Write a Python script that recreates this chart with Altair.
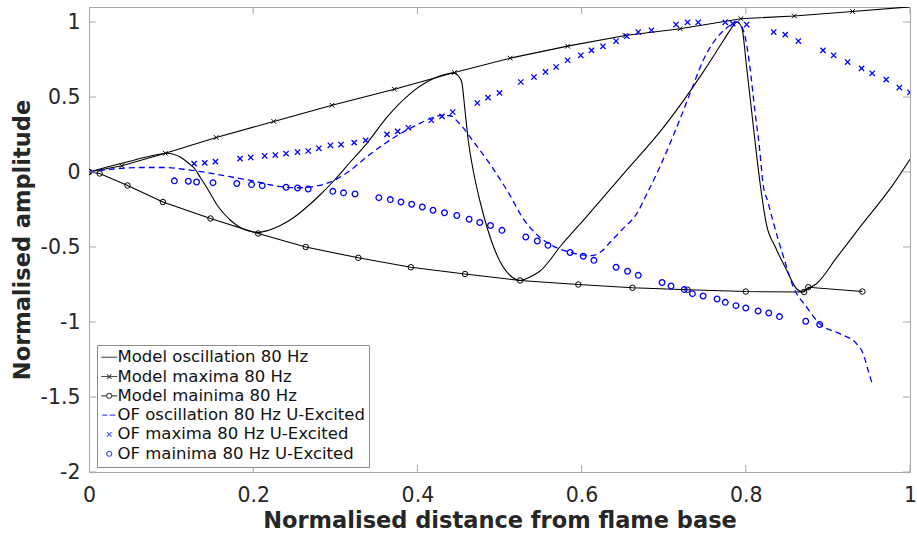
import altair as alt
import pandas as pd

# ---- Model (black) -------------------------------------------------------
mo_x = [0, 0.02, 0.045, 0.07, 0.095, 0.111, 0.122, 0.129, 0.136, 0.143, 0.150,
        0.156, 0.164, 0.172, 0.180, 0.188, 0.197, 0.206, 0.218, 0.233, 0.249,
        0.265, 0.281, 0.298, 0.318, 0.338, 0.363, 0.391, 0.419, 0.433, 0.444,
        0.450, 0.454, 0.458, 0.462, 0.468, 0.476, 0.486, 0.500, 0.513, 0.525,
        0.531, 0.537, 0.543, 0.549, 0.575, 0.602, 0.651, 0.700, 0.748, 0.773,
        0.785, 0.789, 0.795, 0.801, 0.807, 0.813, 0.818, 0.825, 0.836, 0.850,
        0.862, 0.868, 0.876, 0.886, 0.911, 0.939, 0.980, 1.000]
mo_y = [0, 0.03, 0.065, 0.10, 0.125, 0.10, 0.055, 0.02, -0.04, -0.10, -0.165,
        -0.22, -0.275, -0.32, -0.355, -0.38, -0.397, -0.403, -0.39, -0.357, -0.305,
        -0.235, -0.155, -0.06, 0.065, 0.188, 0.366, 0.521, 0.621, 0.650, 0.661,
        0.64, 0.60, 0.41, 0.21, 0.01, -0.19, -0.39, -0.59, -0.69, -0.723,
        -0.715, -0.70, -0.683, -0.662, -0.49, -0.323, -0.012, 0.299, 0.666, 0.878,
        0.978, 1.0, 0.965, 0.70, 0.41, 0.121, -0.10, -0.346, -0.50, -0.657,
        -0.78, -0.797, -0.778, -0.745, -0.568, -0.368, -0.079, 0.085]

mmax_x = [0, 0.04, 0.093, 0.155, 0.225, 0.296, 0.372, 0.445, 0.513, 0.583,
          0.653, 0.72, 0.794, 0.859, 0.93, 1.02]
mmax_y = [0, 0.042, 0.125, 0.23, 0.337, 0.445, 0.552, 0.663, 0.759, 0.839,
          0.91, 0.955, 1.022, 1.04, 1.07, 1.11]

mmin_x = [0, 0.013, 0.047, 0.09, 0.148, 0.206, 0.264, 0.328, 0.392, 0.458,
          0.525, 0.596, 0.662, 0.729, 0.80, 0.871, 0.876, 0.942]
mmin_y = [0, -0.01, -0.09, -0.20, -0.31, -0.41, -0.50, -0.572, -0.635, -0.68,
          -0.723, -0.75, -0.772, -0.785, -0.797, -0.80, -0.768, -0.797]

# ---- OF, U-excited (blue) ------------------------------------------------
of_x = [0, 0.03, 0.06, 0.09, 0.12, 0.15, 0.18, 0.20, 0.22, 0.237, 0.255, 0.275,
        0.297, 0.318, 0.338, 0.358, 0.379, 0.398, 0.415, 0.43, 0.44, 0.45, 0.47,
        0.49, 0.51, 0.53, 0.546, 0.559, 0.572, 0.586, 0.600, 0.612, 0.624, 0.635,
        0.65, 0.667, 0.68, 0.695, 0.71, 0.724, 0.736, 0.748, 0.76, 0.773, 0.783,
        0.789, 0.797, 0.805, 0.811, 0.817, 0.821, 0.827, 0.834, 0.846, 0.858,
        0.874, 0.89, 0.915, 0.935, 0.943, 0.949, 0.954]
of_y = [0, 0.02, 0.03, 0.03, 0.015, -0.01, -0.04, -0.06, -0.085, -0.10, -0.105,
        -0.095, -0.06, 0.01, 0.10, 0.18, 0.255, 0.31, 0.355, 0.377, 0.375, 0.33,
        0.19, 0.04, -0.13, -0.32, -0.42, -0.475, -0.51, -0.535, -0.553, -0.558,
        -0.53, -0.467, -0.38, -0.279, -0.14, 0.03, 0.22, 0.41, 0.58, 0.743, 0.86,
        0.943, 0.985, 1.0, 0.945, 0.70, 0.41, 0.143, -0.08, -0.2, -0.346, -0.568,
        -0.768, -0.90, -1.012, -1.079, -1.146, -1.212, -1.323, -1.412]

ofmax_x = [0.128, 0.141, 0.154, 0.184, 0.197, 0.214, 0.227, 0.240, 0.254, 0.267,
           0.280, 0.294, 0.307, 0.323, 0.337, 0.363, 0.376, 0.389, 0.417, 0.430,
           0.443, 0.473, 0.486, 0.500, 0.526, 0.542, 0.556, 0.569, 0.583, 0.599,
           0.612, 0.626, 0.642, 0.655, 0.669, 0.685, 0.715, 0.729, 0.742, 0.775,
           0.784, 0.801, 0.834, 0.848, 0.864, 0.894, 0.907, 0.924, 0.941, 0.954,
           0.971, 0.987, 1.0]
ofmax_y = [0.056, 0.061, 0.069, 0.089, 0.097, 0.108, 0.113, 0.123, 0.133, 0.14,
           0.158, 0.178, 0.183, 0.196, 0.211, 0.251, 0.271, 0.295, 0.345, 0.371,
           0.40, 0.46, 0.496, 0.527, 0.60, 0.633, 0.667, 0.70, 0.745, 0.778,
           0.811, 0.838, 0.873, 0.905, 0.933, 0.945, 0.983, 0.998, 0.998, 0.998,
           0.989, 0.983, 0.933, 0.916, 0.873, 0.811, 0.778, 0.733, 0.691, 0.658,
           0.616, 0.563, 0.531]

ofmin_x = [0.104, 0.121, 0.131, 0.151, 0.180, 0.198, 0.211, 0.240, 0.254, 0.267,
           0.297, 0.310, 0.324, 0.353, 0.367, 0.380, 0.393, 0.406, 0.419, 0.433,
           0.448, 0.463, 0.476, 0.489, 0.503, 0.532, 0.546, 0.559, 0.586, 0.602,
           0.615, 0.642, 0.656, 0.669, 0.698, 0.709, 0.725, 0.735, 0.748, 0.765,
           0.775, 0.788, 0.800, 0.815, 0.828, 0.841, 0.873, 0.890]
ofmin_y = [-0.059, -0.062, -0.067, -0.071, -0.077, -0.084, -0.091, -0.102, -0.107, -0.113,
           -0.129, -0.139, -0.147, -0.171, -0.184, -0.20, -0.215, -0.233, -0.255, -0.272,
           -0.29, -0.315, -0.337, -0.357, -0.389, -0.433, -0.46, -0.489, -0.537, -0.562,
           -0.589, -0.635, -0.662, -0.689, -0.737, -0.76, -0.784, -0.811, -0.827, -0.847,
           -0.869, -0.891, -0.907, -0.927, -0.94, -0.964, -0.995, -1.017]

x_ticks = [0, 0.2, 0.4, 0.6, 0.8, 1]
y_ticks = [1, 0.5, 0, -0.5, -1, -1.5, -2]

series_names = ["Model oscillation 80 Hz", "Model maxima 80 Hz", "Model mainima 80 Hz",
                "OF oscillation 80 Hz U-Excited", "OF maxima 80 Hz U-Excited",
                "OF mainima 80 Hz U-Excited"]
series_colors = ["#000000", "#000000", "#000000", "#0000ff", "#0000ff", "#0000ff"]

# legend glyphs as symbol paths (unit = half the symbol size)
X_PATH = "M-1,-1L1,1M-1,1L1,-1"
legend_paths = [
    "M-1.6,0H1.6",
    "M-1.6,0H1.6M-0.45,-0.45L0.45,0.45M-0.45,0.45L0.45,-0.45",
    "M-1.6,0H-0.5M0.5,0H1.6M-0.5,0A0.5,0.5,0,1,0,0.5,0A0.5,0.5,0,1,0,-0.5,0",
    "M-1.4,0H-0.4M0.1,0H1.2",
    "M-0.45,-0.45L0.45,0.45M-0.45,0.45L0.45,-0.45",
    "M-0.5,0A0.5,0.5,0,1,0,0.5,0A0.5,0.5,0,1,0,-0.5,0",
]

W, H = 821, 465
FONT = "DejaVu Sans"
TXT = "#262626"
FRAME = "#a6a6a6"


def frame(xs, ys):
    return pd.DataFrame({"x": xs, "y": ys})


xscale = alt.Scale(domain=[0, 1], nice=False, zero=False)
yscale = alt.Scale(domain=[-2, 1.1], nice=False, zero=False)

x_axis = alt.Axis(values=x_ticks, title="Normalised distance from flame base",
                  labelExpr="'' + datum.value", ticks=False, domain=False, grid=False,
                  labelFlush=False, labelPadding=13, titlePadding=4)
y_axis = alt.Axis(values=y_ticks, title="Normalised amplitude",
                  labelExpr="'' + datum.value", ticks=False, domain=False, grid=False,
                  labelPadding=9, titlePadding=6)

X = alt.X("x:Q", scale=xscale, axis=x_axis)
Y = alt.Y("y:Q", scale=yscale, axis=y_axis)


def line(df, color, width=1.1, dash=None, interp="linear"):
    kw = dict(color=color, strokeWidth=width, clip=True, interpolate=interp)
    if dash:
        kw["strokeDash"] = dash
    return alt.Chart(df).mark_line(**kw).encode(x=X, y=Y, order=alt.Order("x:Q"))


def points(df, shape, color, size, width):
    return alt.Chart(df).mark_point(shape=shape, color=color, size=size,
                                    strokeWidth=width, filled=False, clip=True,
                                    opacity=1).encode(x=X, y=Y)


model_osc = line(frame(mo_x, mo_y), "#000000", interp="monotone")
model_max_l = line(frame(mmax_x, mmax_y), "#000000")
model_max_p = points(frame(mmax_x, mmax_y), X_PATH, "#000000", 22, 1)
model_min_l = line(frame(mmin_x, mmin_y), "#000000")
model_min_p = points(frame(mmin_x, mmin_y), "circle", "#000000", 30, 1)
of_osc = line(frame(of_x, of_y), "#0000ff", width=1.3, dash=[6, 4], interp="monotone")
of_max_p = points(frame(ofmax_x, ofmax_y), X_PATH, "#0000ff", 28, 1.3)
of_min_p = points(frame(ofmin_x, ofmin_y), "circle", "#0000ff", 32, 1.3)

# inward tick marks on all four sides of the box
xt = pd.DataFrame({"x": x_ticks})
yt = pd.DataFrame({"y": y_ticks})
tick_kw = dict(color=FRAME, size=14, thickness=1, clip=True, opacity=1)
ticks_bottom = alt.Chart(xt).mark_tick(orient="vertical", **tick_kw).encode(x=X, y=alt.value(H))
ticks_top = alt.Chart(xt).mark_tick(orient="vertical", **tick_kw).encode(x=X, y=alt.value(0))
ticks_left = alt.Chart(yt).mark_tick(orient="horizontal", **tick_kw).encode(y=Y, x=alt.value(0))
ticks_right = alt.Chart(yt).mark_tick(orient="horizontal", **tick_kw).encode(y=Y, x=alt.value(W))

# legend-only layer: carries the series scales, draws nothing
legend_def = alt.Legend(
    title=None, orient="none", legendX=8, legendY=338, direction="vertical",
    fillColor="white", strokeColor="#8c8c8c", padding=4, cornerRadius=0,
    labelFont=FONT, labelFontSize=16.5, labelColor="#111111", labelLimit=400,
    labelOffset=0, rowPadding=2.3, symbolSize=100, symbolStrokeWidth=1.1,
    symbolFillColor="transparent",
)
legend_layer = alt.Chart(pd.DataFrame({"series": series_names, "x": 0.0, "y": 0.0})).transform_filter(
    "false"
).mark_point(filled=False).encode(
    x=X, y=Y,
    color=alt.Color("series:N", scale=alt.Scale(domain=series_names, range=series_colors),
                    legend=legend_def),
    shape=alt.Shape("series:N", scale=alt.Scale(domain=series_names, range=legend_paths),
                    legend=legend_def),
)

chart = alt.layer(
    model_osc, model_max_l, model_max_p, model_min_l, model_min_p,
    of_osc, of_max_p, of_min_p,
    ticks_bottom, ticks_top, ticks_left, ticks_right,
    legend_layer,
).properties(
    width=W, height=H,
    autosize=alt.AutoSizeParams(type="none"),
    padding={"left": 89, "top": 7, "right": 7, "bottom": 66},
    background="white",
).configure_view(
    stroke=FRAME, strokeWidth=1,
).configure_axis(
    labelFont=FONT, labelFontSize=20.5, labelColor=TXT,
    titleFont=FONT, titleFontSize=22.5, titleFontWeight="bold", titleColor=TXT,
)

chart.save("out.html", embed_options={"renderer": "svg", "actions": False})
